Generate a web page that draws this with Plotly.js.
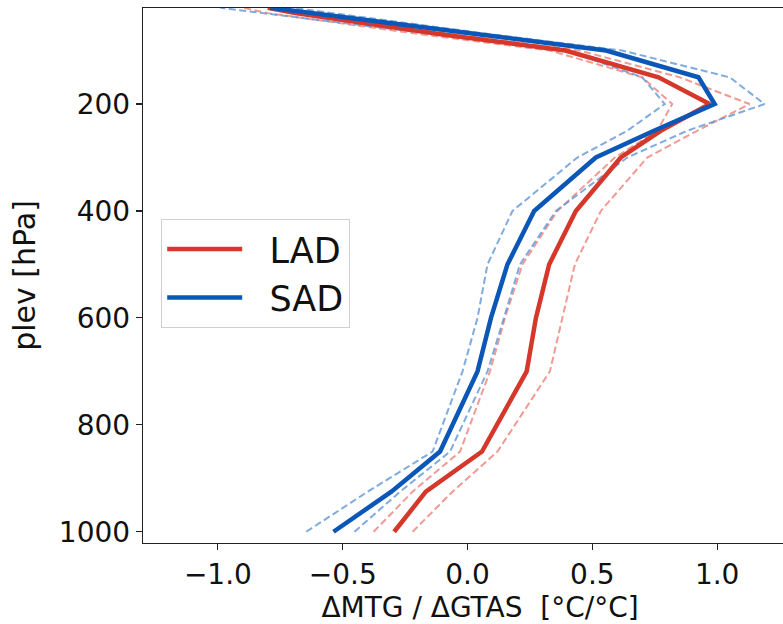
<!DOCTYPE html>
<html>
<head>
<meta charset="utf-8">
<script src="https://cdn.plot.ly/plotly-3.0.1.min.js"></script>
<style>html,body{margin:0;padding:0;background:#fff;overflow:hidden;}#chart{width:820px;height:624px;}</style>
</head>
<body>
<div id="chart"></div>
<script>
// Pressure levels [hPa]
const plev = [1000, 925, 850, 700, 600, 500, 400, 300, 250, 200, 150, 100, 70, 50, 30, 20];
// Multi-model mean ΔMTG/ΔGTAS
const ladMean = [-0.294, -0.167, 0.058, 0.237, 0.274, 0.327, 0.434, 0.614, 0.774, 0.970, 0.765, 0.392, -0.10, -0.39, -0.69, -0.80];
const sadMean = [-0.537, -0.305, -0.110, 0.040, 0.094, 0.160, 0.267, 0.514, 0.747, 0.990, 0.925, 0.555, 0.05, -0.29, -0.63, -0.79];
// Spread envelopes (dashed)
const ladLow  = [-0.376, -0.22, -0.03, 0.09, 0.15, 0.22, 0.36, 0.59, 0.76, 0.82, 0.70, 0.33, -0.18, -0.50, -0.80, -0.90];
const ladHigh = [-0.220, -0.06, 0.12, 0.33, 0.38, 0.43, 0.534, 0.72, 0.92, 1.13, 0.85, 0.45, -0.05, -0.35, -0.65, -0.78];
const sadLow  = [-0.646, -0.40, -0.14, -0.02, 0.04, 0.08, 0.18, 0.44, 0.64, 0.79, 0.70, 0.40, -0.12, -0.48, -0.82, -0.99];
const sadHigh = [-0.453, -0.27, -0.07, 0.08, 0.146, 0.21, 0.354, 0.64, 0.88, 1.19, 1.05, 0.62, 0.10, -0.22, -0.55, -0.70];
const names = ['LAD', 'SAD'];
const xTicks = [-1.0, -0.5, 0.0, 0.5, 1.0];
const xTickText = ['\u22121.0', '\u22120.5', '0.0', '0.5', '1.0'];
const yTicks = [200, 400, 600, 800, 1000];

const red = '#d5372a', blue = '#0b57b7';
const redD = 'rgba(236,115,105,0.72)', blueD = 'rgba(95,150,215,0.8)';
const dashStyle = '7px,3.5px';
const pad = '\u00a0\u00a0';

function dashed(x, c) {
  return {x: x, y: plev, mode: 'lines', showlegend: false, hoverinfo: 'skip',
          line: {color: c, width: 2, dash: dashStyle}};
}
const data = [
  dashed(ladLow, redD), dashed(ladHigh, redD),
  dashed(sadLow, blueD), dashed(sadHigh, blueD),
  {x: ladMean, y: plev, mode: 'lines', name: pad + names[0], line: {color: red, width: 4.5}},
  {x: sadMean, y: plev, mode: 'lines', name: pad + names[1], line: {color: blue, width: 4.5}}
];

const font = {family: 'DejaVu Sans, sans-serif', size: 28, color: '#111'};
const layout = {
  width: 820, height: 624,
  margin: {l: 143, r: 3, t: 8, b: 81, pad: 0},
  paper_bgcolor: '#fff', plot_bgcolor: '#fff',
  font: font,
  showlegend: true,
  legend: {x: 0.027, y: 0.606, xanchor: 'left', yanchor: 'top',
           font: {family: 'DejaVu Sans, sans-serif', size: 35, color: '#111'},
           bordercolor: '#d0d0d0', borderwidth: 1, bgcolor: 'rgba(255,255,255,0.8)',
           itemwidth: 75, tracegroupgap: 4},
  xaxis: {
    range: [-1.3, 1.4], tickvals: xTicks, ticktext: xTickText,
    showgrid: false, zeroline: false, showline: true, mirror: true,
    linecolor: '#222', linewidth: 1.3, ticks: 'outside', ticklen: 6, tickwidth: 1.2, tickcolor: '#222',
    tickfont: font,
    title: {text: '\u0394MTG / \u0394GTAS  [\u00b0C/\u00b0C]', font: font, standoff: 6}
  },
  yaxis: {
    range: [1021, 20.4], tickvals: yTicks,
    showgrid: false, zeroline: false, showline: true, mirror: true,
    linecolor: '#222', linewidth: 1.3, ticks: 'outside', ticklen: 6, tickwidth: 1.2, tickcolor: '#222',
    tickfont: font,
    title: {text: 'plev [hPa]', font: {family: 'DejaVu Sans, sans-serif', size: 30, color: '#111'}, standoff: 14}
  }
};
Plotly.newPlot('chart', data, layout, {displayModeBar: false, staticPlot: true});
</script>
</body>
</html>
